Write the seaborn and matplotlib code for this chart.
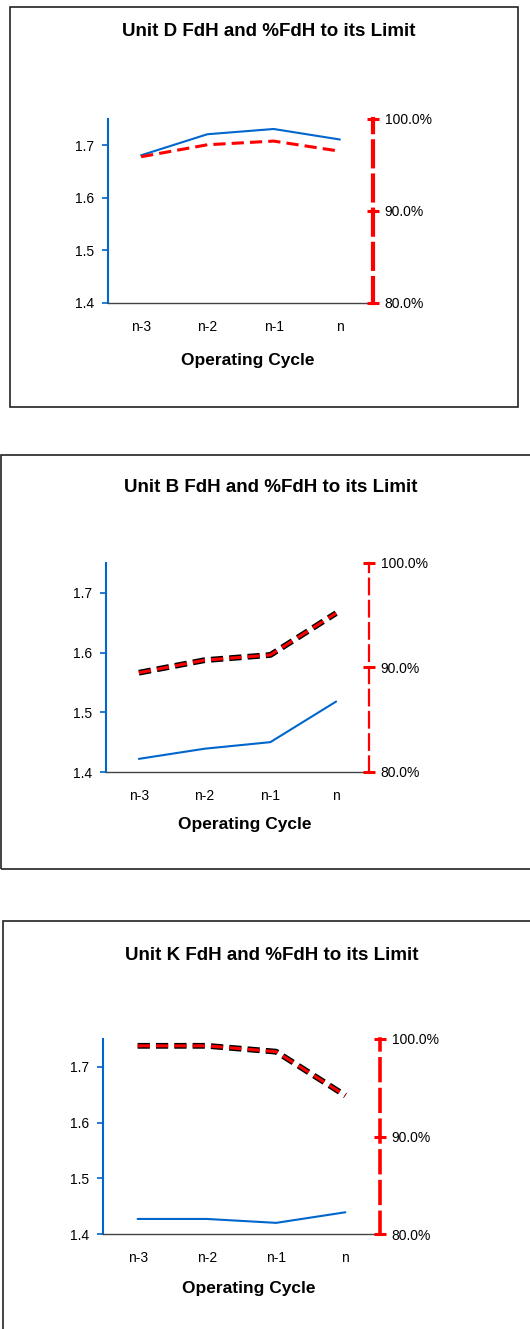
import numpy as np
import matplotlib
matplotlib.use('Agg')
import matplotlib.pyplot as plt
import matplotlib.patheffects as pe
from matplotlib.patches import Rectangle
from matplotlib.ticker import FixedLocator, FuncFormatter
import seaborn as sns

# data
cycles = ['n-3', 'n-2', 'n-1', 'n']
units = ['D', 'B', 'K']
fdh_D = [1.681, 1.721, 1.731, 1.711]
pct_D = [95.9, 97.2, 97.6, 96.5]
fdh_B = [1.422, 1.439, 1.450, 1.518]
pct_B = [89.5, 90.7, 91.2, 95.2]
fdh_K = [1.427, 1.427, 1.420, 1.439]
pct_K = [99.3, 99.3, 98.7, 94.2]
left_ticks = [1.4, 1.5, 1.6, 1.7]
right_ticks = [80, 90, 100]

sns.set_style('white')
plt.rcParams['font.family'] = ['Liberation Sans', 'DejaVu Sans']
plt.rcParams['text.color'] = 'black'
plt.rcParams['xtick.labelcolor'] = 'black'
plt.rcParams['ytick.labelcolor'] = 'black'

W, H = 530, 1329
BLUE = '#0066CC'
RED = '#FF0000'

fig = plt.figure(figsize=(W / 100, H / 100), dpi=100)


def fx(x):
    return x / W


def fy(y):
    return 1 - y / H


def panel(frame, plot, title_y, xlab_y, fdh, pct, unit, outlined, spine_lw, spine_dash):
    # outer box
    x0, y0, x1, y1 = frame
    fig.add_artist(Rectangle((fx(x0), fy(y1)), fx(x1 - x0), (y1 - y0) / H,
                             transform=fig.transFigure, fill=False,
                             edgecolor='#222222', lw=1.2))
    l, t, r, b = plot
    ax = fig.add_axes([fx(l), fy(b), fx(r - l), (b - t) / H])
    ax.patch.set_alpha(0)
    sns.lineplot(x=cycles, y=fdh, ax=ax, color=BLUE, lw=1.5, sort=False)
    ax.set_ylim(1.4, 1.75)
    ax.set_xlim(-0.5, 3.5)
    ax.set_yticks(left_ticks)
    ax.set_yticklabels([f'{v:.1f}' for v in left_ticks])
    ax.set_xticks(range(len(cycles)))
    ax.set_xticklabels(cycles)
    ax.xaxis.set_minor_locator(FixedLocator(np.arange(-0.5, 4, 1)))
    ax.tick_params(axis='x', which='major', length=0, labelsize=10, pad=12)
    ax.tick_params(axis='x', which='minor', length=4, width=1, color='#444444', direction='out')
    ax.tick_params(axis='y', length=4, width=1.2, color=BLUE, labelsize=10, pad=6)
    for s in ['top', 'right']:
        ax.spines[s].set_visible(False)
    ax.spines['left'].set_color(BLUE)
    ax.spines['left'].set_linewidth(1.5)
    ax.spines['bottom'].set_color('#444444')
    ax.spines['bottom'].set_linewidth(1)
    ax.set_xlabel('')
    ax.set_ylabel('')

    ax2 = ax.twinx()
    ax2.patch.set_alpha(0)
    kw = dict(color=RED, lw=2.2, linestyle=(0, (4, 2)), sort=False)
    if outlined:
        kw['path_effects'] = [pe.Stroke(linewidth=4.2, foreground='black'), pe.Normal()]
    sns.lineplot(x=cycles, y=pct, ax=ax2, **kw)
    ax2.set_ylim(80, 100)
    ax2.set_yticks(right_ticks)
    ax2.yaxis.set_major_formatter(FuncFormatter(lambda v, p: f'{v:.1f}%'))
    ax2.tick_params(axis='y', direction='inout', length=9, width=2.2, color=RED,
                    labelsize=10, pad=4)
    for s in ['top', 'left', 'bottom']:
        ax2.spines[s].set_visible(False)
    ax2.spines['right'].set_color(RED)
    ax2.spines['right'].set_linewidth(spine_lw)
    ax2.spines['right'].set_linestyle(spine_dash)
    ax2.set_xlabel('')
    ax2.set_ylabel('')

    cx = (x0 + min(x1, W)) / 2
    fig.text(fx(cx + 5), fy(title_y), f'Unit {unit} FdH and %FdH to its Limit',
             ha='center', va='center', fontsize=13.5, fontweight='bold')
    fig.text(fx((l + r) / 2 + 7), fy(xlab_y), 'Operating Cycle',
             ha='center', va='center', fontsize=12.5, fontweight='bold')


panel((10, 7, 518, 407), (108, 119, 373, 303), 32, 361, fdh_D, pct_D, units[0],
      False, 3.0, (0, (6, 2.2)))
panel((1, 455, 540, 869), (106, 563, 369, 772), 488, 825, fdh_B, pct_B, units[1],
      True, 1.6, (0, (7, 3)))
panel((3, 921, 540, 1340), (103, 1039, 380, 1234), 955, 1288, fdh_K, pct_K, units[2],
      True, 2.6, (0, (6, 2.5)))

fig.savefig('out.png', dpi=100)
